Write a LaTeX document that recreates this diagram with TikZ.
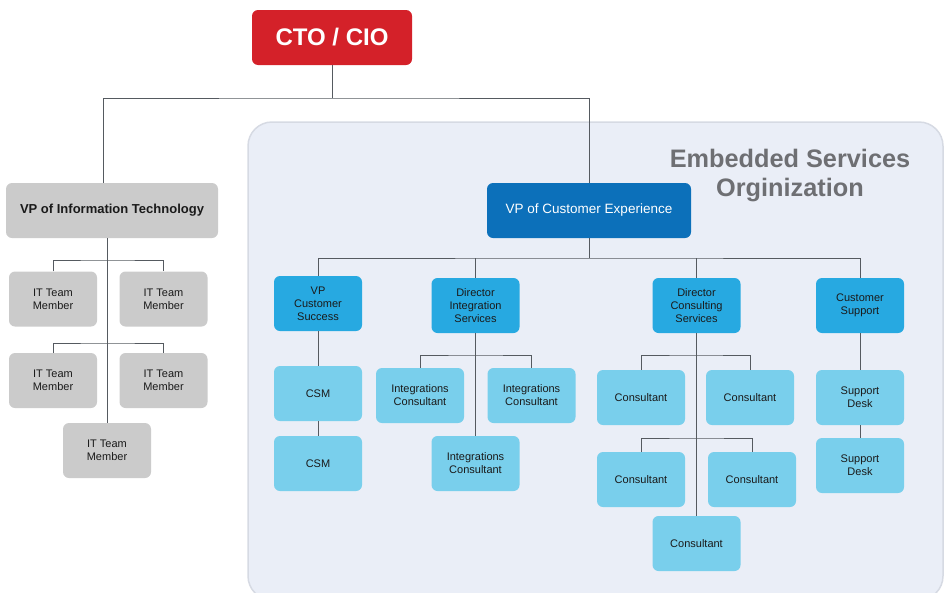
\documentclass[tikz,border=0pt]{standalone}
\usepackage{fontspec}
\setmainfont{Liberation Sans}
\definecolor{ctored}{HTML}{D42129}
\definecolor{itgray}{HTML}{CBCBCB}
\definecolor{cxblue}{HTML}{0C70BA}
\definecolor{lvtwo}{HTML}{27A9E1}
\definecolor{lvthree}{HTML}{79CFEC}
\definecolor{regionfill}{HTML}{EAEEF7}
\definecolor{regionline}{HTML}{D6DAE3}
\definecolor{titlegray}{HTML}{6E6F73}
\definecolor{connline}{HTML}{555A60}
\definecolor{boxtext}{HTML}{1A1A1A}
\begin{document}
\begin{tikzpicture}[x=1pt,y=-1pt,
  box/.style={rounded corners=6, minimum width=88, minimum height=55, inner sep=1,
    align=center, font=\fontsize{11}{13}\selectfont, text=boxtext},
  itbox/.style={box, fill=itgray},
  lvtwobox/.style={box, fill=lvtwo},
  lvthreebox/.style={box, fill=lvthree},
  conn/.style={draw=connline, line width=0.9},
  titletext/.style={font=\fontsize{25.3}{29}\selectfont\bfseries, text=titlegray, anchor=base, inner sep=0}
]
\useasboundingbox (0,0) rectangle (950,592);
% region
\draw[fill=regionfill, draw=regionline, line width=1.5, rounded corners=24] (248,122) rectangle (943,600);
\node[titletext] (title1) at (790,167) {Embedded Services};
\node[titletext] (title2) at (790,196) {Orginization};

% top
\node[rounded corners=6, fill=ctored, minimum width=160, minimum height=55, text=white,
  font=\fontsize{24}{28}\selectfont\bfseries] (cto) at (332,37.5) {CTO / CIO};
\node[rounded corners=6, fill=itgray, minimum width=212, minimum height=55, text=boxtext,
  font=\fontsize{13}{15}\selectfont\bfseries] (vpit) at (112,210.5) {VP of Information Technology};
\node[rounded corners=6, fill=cxblue, minimum width=204, minimum height=55, text=white,
  font=\fontsize{13.5}{15}\selectfont] (vpcx) at (589,210.5) {VP of Customer Experience};

% IT members
\node[itbox] (it1) at (53,299) {IT Team\\Member};
\node[itbox] (it2) at (163.5,299) {IT Team\\Member};
\node[itbox] (it3) at (53,380.5) {IT Team\\Member};
\node[itbox] (it4) at (163.5,380.5) {IT Team\\Member};
\node[itbox] (it5) at (107,450.5) {IT Team\\Member};

% level two
\node[lvtwobox] (vpcs) at (318,303.5) {VP\\Customer\\Success};
\node[lvtwobox] (dis) at (475.5,305.5) {Director\\Integration\\Services};
\node[lvtwobox] (dcs) at (696.5,305.5) {Director\\Consulting\\Services};
\node[lvtwobox] (csup) at (860,305.5) {Customer\\Support};

% level three
\node[lvthreebox] (csm1) at (318,393.5) {CSM};
\node[lvthreebox] (csm2) at (318,463.5) {CSM};
\node[lvthreebox] (ic1) at (420,395.5) {Integrations\\Consultant};
\node[lvthreebox] (ic2) at (531.5,395.5) {Integrations\\Consultant};
\node[lvthreebox] (ic3) at (475.5,463.5) {Integrations\\Consultant};
\node[lvthreebox] (c1) at (641,397.5) {Consultant};
\node[lvthreebox] (c2) at (750,397.5) {Consultant};
\node[lvthreebox] (c3) at (641,479.5) {Consultant};
\node[lvthreebox] (c4) at (752,479.5) {Consultant};
\node[lvthreebox] (c5) at (696.5,543.5) {Consultant};
\node[lvthreebox] (sd1) at (860,397.5) {Support\\Desk};
\node[lvthreebox] (sd2) at (860,465.5) {Support\\Desk};

% connectors
\coordinate (j0) at (332,98);
\coordinate (j1) at (589,258);
\draw[conn] (cto.south) -- (j0);
\draw[conn] ([xshift=-9]vpit.north) |- (j0) -| (vpcx.north);
\draw[conn] ([xshift=-5]vpit.south) -- (it5.north);
\draw[conn] (it1.north) |- (107,260) -| (it2.north);
\draw[conn] (it3.north) |- (107,343) -| (it4.north);

\draw[conn] (vpcx.south) -- (j1);
\draw[conn] (vpcs.north) |- (j1) -| (csup.north);
\draw[conn] (dis.north) -- (dis.north |- j1);
\draw[conn] (dcs.north) -- (dcs.north |- j1);

\draw[conn] (vpcs.south) -- (csm1.north);
\draw[conn] (csm1.south) -- (csm2.north);

\draw[conn] (dis.south) -- (ic3.north);
\draw[conn] (ic1.north) |- (475.5,355) -| (ic2.north);

\draw[conn] (dcs.south) -- (c5.north);
\draw[conn] (c1.north) |- (696.5,355) -| (c2.north);
\draw[conn] (c3.north) |- (696.5,438) -| (c4.north);

\draw[conn] (csup.south) -- (sd1.north);
\draw[conn] (sd1.south) -- (sd2.north);
\end{tikzpicture}
\end{document}
